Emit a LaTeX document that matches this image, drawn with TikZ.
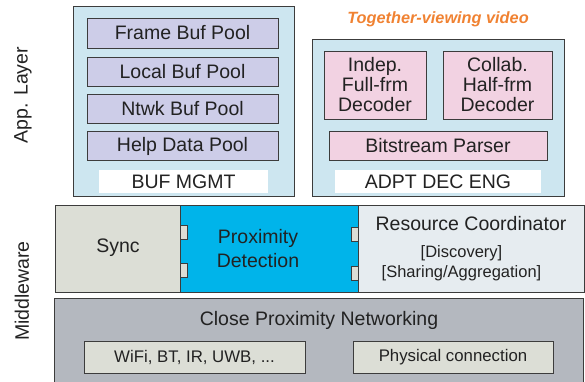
\documentclass[tikz,border=0pt]{standalone}
\usepackage{fontspec}
\setmainfont{Liberation Sans}
\definecolor{appbg}{HTML}{CDE6F0}
\definecolor{pool}{HTML}{CDCDE8}
\definecolor{dec}{HTML}{F2D2E2}
\definecolor{syncc}{HTML}{DCDED6}
\definecolor{proxc}{HTML}{00B4EA}
\definecolor{resc}{HTML}{E6ECF0}
\definecolor{netc}{HTML}{B4B8BF}
\definecolor{edge}{HTML}{3C3C3C}
\definecolor{ttl}{HTML}{F08232}
\definecolor{txt}{HTML}{222222}
\tikzset{
  box/.style={draw=edge, line width=1pt, inner sep=0pt, text=txt},
  big/.style={font=\fontsize{19.5}{20}\selectfont},
  mid/.style={font=\fontsize{16.5}{20}\selectfont},
  lbl/.style={white, fill=white, inner sep=0pt, text=txt, font=\fontsize{19.5}{20}\selectfont},
  plug/.style={draw=edge, line width=0.8pt, fill=syncc, inner sep=0pt, minimum width=7, minimum height=14},
}
\begin{document}
\begin{tikzpicture}[x=1pt,y=-1pt]
\useasboundingbox (0,0) rectangle (585,381);
% App layer left
\node[box, fill=appbg, minimum width=221, minimum height=190] (appL) at (183.5,101) {};
\node[box, big, fill=pool, minimum width=191, minimum height=30] (frame) at (182.5,33) {Frame Buf Pool};
\node[box, big, fill=pool, minimum width=191, minimum height=29] (local) at (182.5,71.5) {Local Buf Pool};
\node[box, big, fill=pool, minimum width=191, minimum height=29] (ntwk) at (182.5,108.5) {Ntwk Buf Pool};
\node[box, big, fill=pool, minimum width=191, minimum height=29] (help) at (182.5,146) {Help Data Pool};
\node[lbl, minimum width=169, minimum height=23] (bufm) at (183.5,181.5) {BUF MGMT};
% App layer right
\node[text=ttl, font=\fontsize{16.3}{18}\selectfont\bfseries\itshape] (title) at (438,19) {Together-viewing video};
\node[box, fill=appbg, minimum width=252, minimum height=157] (appR) at (438,117.5) {};
\node[box, fill=dec, minimum width=102, minimum height=68, align=center, font=\fontsize{19.5}{20}\selectfont] (indep) at (375,85) {Indep.\\Full-frm\\Decoder};
\node[box, fill=dec, minimum width=109, minimum height=68, align=center, font=\fontsize{19.5}{20}\selectfont] (collab) at (497.5,85) {Collab.\\Half-frm\\Decoder};
\node[box, big, fill=dec, minimum width=218, minimum height=29] (bits) at (438,145.5) {Bitstream Parser};
\node[lbl, minimum width=206, minimum height=23] (adpt) at (438,181.5) {ADPT DEC ENG};
% Middleware
\node[box, fill=syncc, minimum width=125, minimum height=87] (sync) at (117.5,248.5) {};
\node[box, fill=proxc, minimum width=178, minimum height=87] (prox) at (269,248.5) {};
\node[box, fill=resc, minimum width=226, minimum height=87] (res) at (471,248.5) {};
\node[big, text=txt] (synct) at (118,248) {Sync};
\node[text=txt, align=center, font=\fontsize{19.5}{24}\selectfont] (proxt) at (258,249) {Proximity\\Detection};
\node[big, text=txt] (rest) at (471,224) {Resource Coordinator};
\node[text=txt, align=center, font=\fontsize{16.5}{20}\selectfont] (rest2) at (461.5,263) {[Discovery]\\{}{[Sharing/Aggregation]}};
\node[plug] (p1) at (183.5,232) {};
\node[plug] (p2) at (183.5,270.5) {};
\node[plug] (p3) at (354.5,234.5) {};
\node[plug] (p4) at (354.5,273) {};
% Networking
\node[box, fill=netc, minimum width=529, minimum height=86] (net) at (319,341) {};
\node[big, text=txt] (nett) at (319,320) {Close Proximity Networking};
\node[box, fill=syncc, minimum width=221, minimum height=32, font=\fontsize{16.8}{20}\selectfont] (wifi) at (194.5,357) {WiFi, BT, IR, UWB, ...};
\node[box, fill=syncc, minimum width=200, minimum height=32, font=\fontsize{16.8}{20}\selectfont] (phys) at (453,357) {Physical connection};
% Side labels
\node[big, text=txt, rotate=90] (applab) at (23,95) {App. Layer};
\node[big, text=txt, rotate=90] (midlab) at (22,291) {Middleware};
\end{tikzpicture}
\end{document}
